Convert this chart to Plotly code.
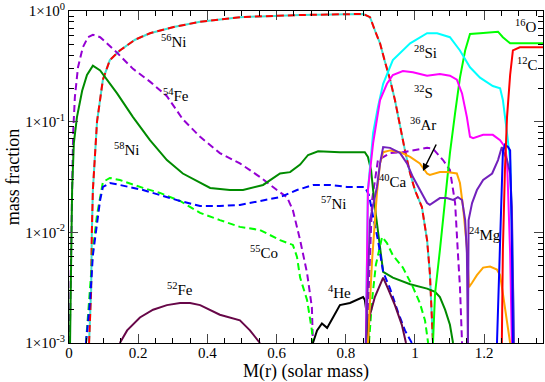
import plotly.graph_objects as go

# mass coordinate M(r) and mass fractions
ni56_m = [0.058, 0.064, 0.066, 0.069, 0.081, 0.098, 0.118, 0.147, 0.191, 0.234, 0.306, 0.379, 0.494, 0.668, 0.85,
          0.87, 0.884, 0.899, 0.913, 0.928, 0.942, 0.957, 0.971, 0.986, 1.0, 1.02, 1.035, 1.043, 1.052]
ni56_x = [0.001, 0.003, 0.01, 0.024, 0.10, 0.24, 0.36, 0.44, 0.55, 0.63, 0.72, 0.80, 0.88, 0.92, 0.94,
          0.88, 0.67, 0.51, 0.35, 0.24, 0.157, 0.089, 0.055, 0.034, 0.024, 0.0169, 0.0085, 0.0043, 0.001]

fe54_m = [0.002, 0.006, 0.009, 0.012, 0.017, 0.026, 0.040, 0.055, 0.069, 0.090, 0.139, 0.185, 0.234, 0.283, 0.329,
          0.379, 0.436, 0.494, 0.552, 0.601, 0.630, 0.647, 0.668, 0.688, 0.702, 0.705]
fe54_x = [0.001, 0.01, 0.024, 0.079, 0.167, 0.31, 0.47, 0.58, 0.61, 0.58, 0.42, 0.30, 0.23, 0.17, 0.105,
          0.073, 0.052, 0.042, 0.0316, 0.0241, 0.0208, 0.0159, 0.0085, 0.0043, 0.0021, 0.001]
fe54b_m = [0.861, 0.867, 0.876, 0.893, 0.928, 0.965, 1.014, 1.035, 1.052, 1.081, 1.101, 1.116, 1.124, 1.130, 1.136]
fe54b_x = [0.001, 0.0037, 0.0196, 0.045, 0.052, 0.053, 0.056, 0.058, 0.057, 0.045, 0.0366, 0.0184, 0.0065, 0.0032, 0.001]

ni58_m = [0.003, 0.009, 0.014, 0.023, 0.038, 0.052, 0.069, 0.090, 0.139, 0.185, 0.234, 0.283, 0.329, 0.379, 0.408,
          0.465, 0.503, 0.561, 0.610, 0.639, 0.668, 0.691, 0.720, 0.783, 0.855, 0.864, 0.873, 0.879, 0.887, 0.908,
          0.936, 0.986, 1.035, 1.058, 1.072, 1.087, 1.101, 1.110]
ni58_x = [0.001, 0.0241, 0.064, 0.11, 0.19, 0.264, 0.32, 0.29, 0.18, 0.11, 0.068, 0.045, 0.034, 0.0279, 0.0252,
          0.0241, 0.0241, 0.0268, 0.034, 0.035, 0.041, 0.050, 0.054, 0.053, 0.053, 0.048, 0.0366, 0.0241, 0.0144, 0.0044,
          0.0039, 0.0034, 0.0031, 0.0029, 0.0026, 0.002, 0.00146, 0.001]

ni57_m = [0.049, 0.061, 0.069, 0.081, 0.090, 0.098, 0.118, 0.147, 0.214, 0.263, 0.321, 0.379, 0.436, 0.494, 0.552,
          0.610, 0.659, 0.705, 0.754, 0.803, 0.855, 0.867, 0.879, 0.893, 0.908, 0.928, 0.951, 0.971, 0.991]
ni57_x = [0.001, 0.00245, 0.0062, 0.0121, 0.0196, 0.0257, 0.0279, 0.0268, 0.0241, 0.0217, 0.0192, 0.0173, 0.0173,
          0.0177, 0.0192, 0.0208, 0.0241, 0.0268, 0.0268, 0.0257, 0.0257, 0.0217, 0.0138, 0.0085, 0.0044, 0.0031,
          0.0019, 0.0013, 0.001]

co55_m = [0.049, 0.061, 0.069, 0.081, 0.090, 0.098, 0.118, 0.147, 0.214, 0.263, 0.321, 0.379, 0.436, 0.494, 0.552,
          0.610, 0.647, 0.659, 0.668, 0.688, 0.702, 0.705]
co55_x = [0.001, 0.003, 0.0069, 0.0144, 0.0217, 0.0285, 0.031, 0.0297, 0.0252, 0.0227, 0.0192, 0.0150, 0.0129,
          0.0112, 0.0105, 0.0085, 0.0077, 0.0060, 0.0039, 0.00245, 0.0013, 0.001]
co55b_m = [0.867, 0.876, 0.887, 0.905, 0.919, 0.936, 0.965, 0.994, 1.014, 1.029, 1.038]
co55b_x = [0.001, 0.00245, 0.0051, 0.0091, 0.0080, 0.0062, 0.0048, 0.0032, 0.0023, 0.0016, 0.001]

fe52_m = [0.147, 0.168, 0.205, 0.243, 0.283, 0.321, 0.350, 0.379, 0.436, 0.494, 0.523, 0.552]
fe52_x = [0.001, 0.0013, 0.0017, 0.002, 0.0022, 0.0023, 0.0023, 0.0022, 0.0018, 0.0016, 0.0013, 0.001]
fe52b_m = [0.861, 0.870, 0.884, 0.908, 0.922, 0.942, 0.962, 0.974]
fe52b_x = [0.001, 0.0018, 0.0026, 0.0039, 0.0031, 0.0022, 0.00146, 0.001]

he4_m = [0.705, 0.717, 0.731, 0.746, 0.763, 0.783, 0.812, 0.850, 0.855, 0.861, 0.867]
he4_x = [0.001, 0.0013, 0.0015, 0.00137, 0.0017, 0.0022, 0.0023, 0.0026, 0.00245, 0.0018, 0.001]

si28_m = [0.858, 0.861, 0.864, 0.879, 0.893, 0.908, 0.936, 0.986, 1.035, 1.064, 1.101, 1.130, 1.159, 1.188, 1.225,
          1.246, 1.254, 1.266, 1.275, 1.280, 1.286]
si28_x = [0.001, 0.0037, 0.0241, 0.079, 0.136, 0.22, 0.36, 0.51, 0.63, 0.63, 0.58, 0.44, 0.31, 0.25, 0.21,
          0.20, 0.157, 0.079, 0.045, 0.0129, 0.001]

s32_m = [0.858, 0.861, 0.864, 0.879, 0.899, 0.919, 0.936, 0.965, 0.994, 1.035, 1.072, 1.101, 1.121, 1.136, 1.150,
         1.159, 1.168, 1.197, 1.225, 1.246, 1.260, 1.266, 1.269, 1.275, 1.280]
s32_x = [0.001, 0.0037, 0.0241, 0.064, 0.157, 0.22, 0.264, 0.287, 0.28, 0.26, 0.27, 0.26, 0.24, 0.18, 0.11,
         0.073, 0.071, 0.076, 0.076, 0.068, 0.059, 0.045, 0.0257, 0.0065, 0.001]

ar36_m = [0.864, 0.876, 0.890, 0.899, 0.908, 0.928, 0.957, 0.986, 1.014, 1.035, 1.043, 1.072, 1.092, 1.121, 1.130,
          1.139, 1.150, 1.156, 1.165, 1.179, 1.197, 1.217, 1.237, 1.246, 1.254, 1.266, 1.275]
ar36_x = [0.001, 0.0056, 0.0227, 0.042, 0.053, 0.055, 0.053, 0.048, 0.042, 0.034, 0.033, 0.035, 0.035, 0.034, 0.0279,
          0.0169, 0.0074, 0.0032, 0.0035, 0.0041, 0.0048, 0.0049, 0.0046, 0.0041, 0.0028, 0.0016, 0.001]

ca40_m = [0.858, 0.870, 0.890, 0.899, 0.908, 0.928, 0.957, 0.977, 0.994, 1.014, 1.035, 1.043, 1.072, 1.092, 1.110,
          1.124, 1.136, 1.145, 1.150, 1.153]
ca40_x = [0.001, 0.0129, 0.0257, 0.042, 0.059, 0.058, 0.052, 0.042, 0.0316, 0.0241, 0.0184, 0.0177, 0.0204, 0.0204,
          0.0196, 0.0208, 0.0196, 0.0129, 0.0065, 0.001]

mg24_m = [1.153, 1.155, 1.165, 1.179, 1.197, 1.223, 1.240, 1.251, 1.254, 1.266, 1.275, 1.280, 1.286]
mg24_x = [0.001, 0.0129, 0.0184, 0.0241, 0.0297, 0.034, 0.045, 0.059, 0.055, 0.045, 0.034, 0.0169, 0.001]

o16_m = [1.052, 1.058, 1.072, 1.087, 1.101, 1.116, 1.130, 1.145, 1.159, 1.188, 1.240, 1.254, 1.275, 1.37]
o16_x = [0.001, 0.0028, 0.0069, 0.0196, 0.052, 0.12, 0.25, 0.44, 0.62, 0.63, 0.65, 0.58, 0.51, 0.51]

c12_m = [1.251, 1.254, 1.260, 1.266, 1.275, 1.283, 1.303, 1.37]
c12_x = [0.001, 0.0069, 0.0366, 0.11, 0.264, 0.44, 0.47, 0.47]

ne_m = [1.237, 1.246, 1.251, 1.254, 1.260, 1.269, 1.275, 1.277, 1.280, 1.283]
ne_x = [0.001, 0.0085, 0.033, 0.053, 0.062, 0.059, 0.055, 0.0297, 0.0085, 0.001]

# labels: (text, M, log10 X)
labels = [("<sup>56</sup>Ni", 0.303, -0.271), ("<sup>54</sup>Fe", 0.310, -0.760),
          ("<sup>58</sup>Ni", 0.168, -1.247), ("<sup>57</sup>Ni", 0.766, -1.735),
          ("<sup>55</sup>Co", 0.564, -2.178), ("<sup>52</sup>Fe", 0.321, -2.512),
          ("<sup>4</sup>He", 0.783, -2.539), ("<sup>28</sup>Si", 1.029, -0.371),
          ("<sup>32</sup>S", 1.026, -0.732), ("<sup>36</sup>Ar", 1.023, -1.021),
          ("<sup>40</sup>Ca", 0.936, -1.536), ("<sup>24</sup>Mg", 1.202, -2.015),
          ("<sup>16</sup>O", 1.321, -0.136), ("<sup>12</sup>C", 1.324, -0.479)]

FONT = "Liberation Serif"
DASH = "7px,4px"

fig = go.Figure()


def add(m, x, color, dash="solid", width=2):
    fig.add_trace(go.Scatter(x=m, y=x, mode="lines", showlegend=False, hoverinfo="skip",
                             line=dict(color=color, width=width, dash=dash)))


add(ni56_m, ni56_x, "#40e0d0")
add(ni56_m, ni56_x, "#ff0000", DASH)
add(fe54_m, fe54_x, "#9400d3", DASH)
add(fe54b_m, fe54b_x, "#9400d3", DASH)
add(ni58_m, ni58_x, "#008b00")
add(co55_m, co55_x, "#00ff00", DASH)
add(co55b_m, co55b_x, "#00ff00", DASH)
add(ni57_m, ni57_x, "#0000ff", DASH)
add(fe52_m, fe52_x, "#670748")
add(fe52b_m, fe52b_x, "#670748")
add(he4_m, he4_x, "#000000")
add(o16_m, o16_x, "#00ff00")
add(si28_m, si28_x, "#00ffff")
add(s32_m, s32_x, "#ff00ff")
add(ar36_m, ar36_x, "#ffa500")
add(ca40_m, ca40_x, "#7221bc")
add(mg24_m, mg24_x, "#7221bc")
add(ne_m, ne_x, "#0000ff")
add(c12_m, c12_x, "#ff0000")

for txt, mx, ly in labels:
    fig.add_annotation(x=mx, y=ly, text=txt, showarrow=False,
                       font=dict(family=FONT, size=15, color="black"))

# arrow pointing at the 36Ar curve
fig.add_annotation(x=1.023, y=-1.446, ax=14, ay=-28, text="", showarrow=True,
                   arrowhead=2, arrowsize=1, arrowwidth=1.5, arrowcolor="black")

y_minor = [k * 10.0 ** e for e in (-3, -2, -1) for k in range(2, 10)]

fig.update_layout(
    width=545, height=382,
    margin=dict(l=69, r=2, t=11, b=39),
    plot_bgcolor="white", paper_bgcolor="white",
    font=dict(family=FONT, size=15, color="black"),
    xaxis=dict(range=[0, 1.37], tick0=0, dtick=0.2, ticks="inside", ticklen=9, tickwidth=1,
               showline=True, linecolor="black", linewidth=1, mirror="allticks",
               showgrid=False, zeroline=False, automargin=False, ticklabelstandoff=-4,
               ticklabeloverflow="allow",
               minor=dict(dtick=0.05, ticks="inside", ticklen=5, tickcolor="black", showgrid=False),
               title=dict(text="M(r) (solar mass)", standoff=0)),
    yaxis=dict(type="log", range=[-3, 0], tickvals=[0.001, 0.01, 0.1, 1],
               ticktext=["1×10<sup>-3</sup>", "1×10<sup>-2</sup>", "1×10<sup>-1</sup>", "1×10<sup>0</sup>"],
               ticks="inside", ticklen=9, tickwidth=1,
               showline=True, linecolor="black", linewidth=1, mirror="allticks",
               showgrid=False, zeroline=False, automargin=False, ticklabeloverflow="allow",
               minor=dict(tickvals=y_minor, ticks="inside", ticklen=5, tickcolor="black", showgrid=False),
               title=dict(text="mass fraction", standoff=0)),
)

# drop the default page margin so the figure sits at the window's corner
fig.write_html("out.html", config={"displayModeBar": False},
               post_script="document.body.style.margin='0';")
